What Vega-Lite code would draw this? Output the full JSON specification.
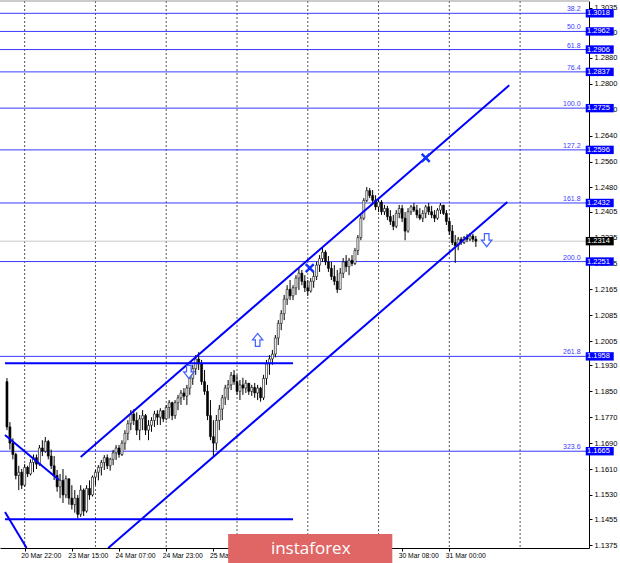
{
"$schema":"https://vega.github.io/schema/vega-lite/v6.json",
"width":589,"height":547,
"autosize":{"type":"none"},
"padding":{"left":0,"top":1,"right":31,"bottom":15},
"background":"#ffffff",
"config":{"view":{"stroke":null},"axis":{"labelFont":"Liberation Sans","grid":false,"labelOverlap":false,"labelFlush":false,"labelBound":false}},
"datasets":{
"candles":[
{"i":0,"o":1.1880,"h":1.1891,"l":1.1730,"c":1.1740},
{"i":1,"o":1.1740,"h":1.1755,"l":1.1670,"c":1.1690},
{"i":2,"o":1.1690,"h":1.1705,"l":1.1640,"c":1.1655},
{"i":3,"o":1.1655,"h":1.1660,"l":1.1578,"c":1.1590},
{"i":4,"o":1.1590,"h":1.1620,"l":1.1545,"c":1.1600},
{"i":5,"o":1.1600,"h":1.1610,"l":1.1548,"c":1.1560},
{"i":6,"o":1.1560,"h":1.1625,"l":1.1555,"c":1.1615},
{"i":7,"o":1.1615,"h":1.1620,"l":1.1585,"c":1.1595},
{"i":8,"o":1.1595,"h":1.1640,"l":1.1590,"c":1.1630},
{"i":9,"o":1.1630,"h":1.1655,"l":1.1600,"c":1.1645},
{"i":10,"o":1.1645,"h":1.1655,"l":1.1610,"c":1.1625},
{"i":11,"o":1.1625,"h":1.1684,"l":1.1620,"c":1.1675},
{"i":12,"o":1.1675,"h":1.1699,"l":1.1650,"c":1.1665},
{"i":13,"o":1.1665,"h":1.1709,"l":1.1660,"c":1.1695},
{"i":14,"o":1.1695,"h":1.1700,"l":1.1640,"c":1.1650},
{"i":15,"o":1.1650,"h":1.1670,"l":1.1610,"c":1.1620},
{"i":16,"o":1.1620,"h":1.1650,"l":1.1576,"c":1.1590},
{"i":17,"o":1.1590,"h":1.1607,"l":1.1540,"c":1.1555},
{"i":18,"o":1.1555,"h":1.1595,"l":1.1520,"c":1.1575},
{"i":19,"o":1.1575,"h":1.1610,"l":1.1505,"c":1.1530},
{"i":20,"o":1.1530,"h":1.1590,"l":1.1520,"c":1.1580},
{"i":21,"o":1.1580,"h":1.1580,"l":1.1500,"c":1.1520},
{"i":22,"o":1.1520,"h":1.1560,"l":1.1485,"c":1.1500},
{"i":23,"o":1.1500,"h":1.1545,"l":1.1475,"c":1.1520},
{"i":24,"o":1.1520,"h":1.1530,"l":1.1458,"c":1.1470},
{"i":25,"o":1.1470,"h":1.1560,"l":1.1462,"c":1.1545},
{"i":26,"o":1.1545,"h":1.1550,"l":1.1465,"c":1.1480},
{"i":27,"o":1.1480,"h":1.1560,"l":1.1475,"c":1.1550},
{"i":28,"o":1.1550,"h":1.1575,"l":1.1515,"c":1.1530},
{"i":29,"o":1.1530,"h":1.1590,"l":1.1525,"c":1.1585},
{"i":30,"o":1.1585,"h":1.1607,"l":1.1560,"c":1.1600},
{"i":31,"o":1.1600,"h":1.1622,"l":1.1575,"c":1.1615},
{"i":32,"o":1.1615,"h":1.1638,"l":1.1590,"c":1.1630},
{"i":33,"o":1.1630,"h":1.1653,"l":1.1607,"c":1.1645},
{"i":34,"o":1.1645,"h":1.1655,"l":1.1610,"c":1.1620},
{"i":35,"o":1.1620,"h":1.1645,"l":1.1605,"c":1.1640},
{"i":36,"o":1.1640,"h":1.1669,"l":1.1622,"c":1.1660},
{"i":37,"o":1.1660,"h":1.1684,"l":1.1638,"c":1.1675},
{"i":38,"o":1.1675,"h":1.1684,"l":1.1645,"c":1.1655},
{"i":39,"o":1.1655,"h":1.1699,"l":1.1650,"c":1.1690},
{"i":40,"o":1.1690,"h":1.1730,"l":1.1669,"c":1.1720},
{"i":41,"o":1.1720,"h":1.1761,"l":1.1699,"c":1.1750},
{"i":42,"o":1.1750,"h":1.1792,"l":1.1730,"c":1.1780},
{"i":43,"o":1.1780,"h":1.1795,"l":1.1746,"c":1.1760},
{"i":44,"o":1.1760,"h":1.1785,"l":1.1715,"c":1.1730},
{"i":45,"o":1.1730,"h":1.1777,"l":1.1699,"c":1.1765},
{"i":46,"o":1.1765,"h":1.1792,"l":1.1730,"c":1.1775},
{"i":47,"o":1.1775,"h":1.1780,"l":1.1715,"c":1.1730},
{"i":48,"o":1.1730,"h":1.1761,"l":1.1699,"c":1.1745},
{"i":49,"o":1.1745,"h":1.1770,"l":1.1725,"c":1.1760},
{"i":50,"o":1.1760,"h":1.1790,"l":1.1740,"c":1.1780},
{"i":51,"o":1.1780,"h":1.1792,"l":1.1746,"c":1.1770},
{"i":52,"o":1.1770,"h":1.1798,"l":1.1746,"c":1.1790},
{"i":53,"o":1.1790,"h":1.1792,"l":1.1755,"c":1.1765},
{"i":54,"o":1.1765,"h":1.1808,"l":1.1761,"c":1.1800},
{"i":55,"o":1.1800,"h":1.1823,"l":1.1766,"c":1.1815},
{"i":56,"o":1.1815,"h":1.1818,"l":1.1761,"c":1.1775},
{"i":57,"o":1.1775,"h":1.1823,"l":1.1765,"c":1.1815},
{"i":58,"o":1.1815,"h":1.1839,"l":1.1792,"c":1.1830},
{"i":59,"o":1.1830,"h":1.1854,"l":1.1808,"c":1.1845},
{"i":60,"o":1.1845,"h":1.1860,"l":1.1823,"c":1.1835},
{"i":61,"o":1.1835,"h":1.1870,"l":1.1808,"c":1.1860},
{"i":62,"o":1.1860,"h":1.1901,"l":1.1839,"c":1.1890},
{"i":63,"o":1.1890,"h":1.1932,"l":1.1870,"c":1.1920},
{"i":64,"o":1.1920,"h":1.1962,"l":1.1901,"c":1.1950},
{"i":65,"o":1.1950,"h":1.1971,"l":1.1916,"c":1.1935},
{"i":66,"o":1.1935,"h":1.1947,"l":1.1870,"c":1.1880},
{"i":67,"o":1.1880,"h":1.1916,"l":1.1839,"c":1.1850},
{"i":68,"o":1.1850,"h":1.1870,"l":1.1761,"c":1.1775},
{"i":69,"o":1.1775,"h":1.1823,"l":1.1699,"c":1.1710},
{"i":70,"o":1.1710,"h":1.1761,"l":1.1647,"c":1.1690},
{"i":71,"o":1.1690,"h":1.1777,"l":1.1669,"c":1.1760},
{"i":72,"o":1.1760,"h":1.1808,"l":1.1730,"c":1.1795},
{"i":73,"o":1.1795,"h":1.1839,"l":1.1761,"c":1.1830},
{"i":74,"o":1.1830,"h":1.1870,"l":1.1808,"c":1.1860},
{"i":75,"o":1.1860,"h":1.1885,"l":1.1823,"c":1.1870},
{"i":76,"o":1.1870,"h":1.1910,"l":1.1854,"c":1.1900},
{"i":77,"o":1.1900,"h":1.1916,"l":1.1870,"c":1.1880},
{"i":78,"o":1.1880,"h":1.1901,"l":1.1839,"c":1.1850},
{"i":79,"o":1.1850,"h":1.1885,"l":1.1823,"c":1.1870},
{"i":80,"o":1.1870,"h":1.1892,"l":1.1839,"c":1.1860},
{"i":81,"o":1.1860,"h":1.1885,"l":1.1845,"c":1.1875},
{"i":82,"o":1.1875,"h":1.1876,"l":1.1839,"c":1.1850},
{"i":83,"o":1.1850,"h":1.1870,"l":1.1836,"c":1.1862},
{"i":84,"o":1.1862,"h":1.1876,"l":1.1830,"c":1.1845},
{"i":85,"o":1.1845,"h":1.1870,"l":1.1823,"c":1.1860},
{"i":86,"o":1.1860,"h":1.1864,"l":1.1818,"c":1.1830},
{"i":87,"o":1.1830,"h":1.1901,"l":1.1823,"c":1.1890},
{"i":88,"o":1.1890,"h":1.1947,"l":1.1870,"c":1.1935},
{"i":89,"o":1.1935,"h":1.1962,"l":1.1901,"c":1.1950},
{"i":90,"o":1.1950,"h":1.1978,"l":1.1932,"c":1.1965},
{"i":91,"o":1.1965,"h":1.2024,"l":1.1955,"c":1.2015},
{"i":92,"o":1.2015,"h":1.2070,"l":1.1993,"c":1.2060},
{"i":93,"o":1.2060,"h":1.2101,"l":1.2039,"c":1.2090},
{"i":94,"o":1.2090,"h":1.2148,"l":1.2070,"c":1.2135},
{"i":95,"o":1.2135,"h":1.2178,"l":1.2117,"c":1.2165},
{"i":96,"o":1.2165,"h":1.2194,"l":1.2132,"c":1.2145},
{"i":97,"o":1.2145,"h":1.2178,"l":1.2132,"c":1.2170},
{"i":98,"o":1.2170,"h":1.2209,"l":1.2148,"c":1.2200},
{"i":99,"o":1.2200,"h":1.2231,"l":1.2163,"c":1.2215},
{"i":100,"o":1.2215,"h":1.2225,"l":1.2178,"c":1.2190},
{"i":101,"o":1.2190,"h":1.2209,"l":1.2157,"c":1.2170},
{"i":102,"o":1.2170,"h":1.2194,"l":1.2145,"c":1.2160},
{"i":103,"o":1.2160,"h":1.2200,"l":1.2155,"c":1.2190},
{"i":104,"o":1.2190,"h":1.2219,"l":1.2170,"c":1.2205},
{"i":105,"o":1.2205,"h":1.2250,"l":1.2194,"c":1.2240},
{"i":106,"o":1.2240,"h":1.2271,"l":1.2219,"c":1.2260},
{"i":107,"o":1.2260,"h":1.2293,"l":1.2250,"c":1.2280},
{"i":108,"o":1.2280,"h":1.2286,"l":1.2240,"c":1.2250},
{"i":109,"o":1.2250,"h":1.2268,"l":1.2219,"c":1.2230},
{"i":110,"o":1.2230,"h":1.2250,"l":1.2194,"c":1.2205},
{"i":111,"o":1.2205,"h":1.2240,"l":1.2178,"c":1.2190},
{"i":112,"o":1.2190,"h":1.2225,"l":1.2154,"c":1.2165},
{"i":113,"o":1.2165,"h":1.2231,"l":1.2163,"c":1.2215},
{"i":114,"o":1.2215,"h":1.2262,"l":1.2200,"c":1.2250},
{"i":115,"o":1.2250,"h":1.2271,"l":1.2219,"c":1.2235},
{"i":116,"o":1.2235,"h":1.2262,"l":1.2209,"c":1.2255},
{"i":117,"o":1.2255,"h":1.2271,"l":1.2237,"c":1.2245},
{"i":118,"o":1.2245,"h":1.2293,"l":1.2240,"c":1.2285},
{"i":119,"o":1.2285,"h":1.2333,"l":1.2271,"c":1.2325},
{"i":120,"o":1.2325,"h":1.2395,"l":1.2317,"c":1.2385},
{"i":121,"o":1.2385,"h":1.2447,"l":1.2379,"c":1.2440},
{"i":122,"o":1.2440,"h":1.2481,"l":1.2435,"c":1.2470},
{"i":123,"o":1.2470,"h":1.2478,"l":1.2447,"c":1.2455},
{"i":124,"o":1.2455,"h":1.2472,"l":1.2432,"c":1.2440},
{"i":125,"o":1.2440,"h":1.2456,"l":1.2410,"c":1.2420},
{"i":126,"o":1.2420,"h":1.2447,"l":1.2404,"c":1.2435},
{"i":127,"o":1.2435,"h":1.2441,"l":1.2395,"c":1.2405},
{"i":128,"o":1.2405,"h":1.2426,"l":1.2395,"c":1.2415},
{"i":129,"o":1.2415,"h":1.2423,"l":1.2379,"c":1.2390},
{"i":130,"o":1.2390,"h":1.2410,"l":1.2364,"c":1.2375},
{"i":131,"o":1.2375,"h":1.2395,"l":1.2348,"c":1.2360},
{"i":132,"o":1.2360,"h":1.2410,"l":1.2354,"c":1.2400},
{"i":133,"o":1.2400,"h":1.2426,"l":1.2385,"c":1.2415},
{"i":134,"o":1.2415,"h":1.2426,"l":1.2373,"c":1.2385},
{"i":135,"o":1.2385,"h":1.2404,"l":1.2317,"c":1.2345},
{"i":136,"o":1.2345,"h":1.2416,"l":1.2340,"c":1.2405},
{"i":137,"o":1.2405,"h":1.2426,"l":1.2395,"c":1.2420},
{"i":138,"o":1.2420,"h":1.2432,"l":1.2404,"c":1.2410},
{"i":139,"o":1.2410,"h":1.2426,"l":1.2385,"c":1.2395},
{"i":140,"o":1.2395,"h":1.2416,"l":1.2379,"c":1.2385},
{"i":141,"o":1.2385,"h":1.2410,"l":1.2373,"c":1.2400},
{"i":142,"o":1.2400,"h":1.2426,"l":1.2385,"c":1.2420},
{"i":143,"o":1.2420,"h":1.2432,"l":1.2395,"c":1.2405},
{"i":144,"o":1.2405,"h":1.2423,"l":1.2385,"c":1.2395},
{"i":145,"o":1.2395,"h":1.2410,"l":1.2373,"c":1.2385},
{"i":146,"o":1.2385,"h":1.2416,"l":1.2380,"c":1.2410},
{"i":147,"o":1.2410,"h":1.2432,"l":1.2398,"c":1.2425},
{"i":148,"o":1.2425,"h":1.2426,"l":1.2395,"c":1.2400},
{"i":149,"o":1.2400,"h":1.2410,"l":1.2364,"c":1.2375},
{"i":150,"o":1.2375,"h":1.2385,"l":1.2333,"c":1.2345},
{"i":151,"o":1.2345,"h":1.2364,"l":1.2302,"c":1.2310},
{"i":152,"o":1.2310,"h":1.2333,"l":1.2247,"c":1.2300},
{"i":153,"o":1.2300,"h":1.2327,"l":1.2286,"c":1.2320},
{"i":154,"o":1.2320,"h":1.2327,"l":1.2302,"c":1.2310},
{"i":155,"o":1.2310,"h":1.2330,"l":1.2305,"c":1.2325},
{"i":156,"o":1.2325,"h":1.2336,"l":1.2311,"c":1.2320},
{"i":157,"o":1.2320,"h":1.2339,"l":1.2314,"c":1.2330},
{"i":158,"o":1.2330,"h":1.2336,"l":1.2311,"c":1.2320},
{"i":159,"o":1.2320,"h":1.2330,"l":1.2296,"c":1.2314}
],
"fib":[
{"v":1.3018,"t":"38.2"},{"v":1.2962,"t":"50.0"},{"v":1.2906,"t":"61.8"},{"v":1.2837,"t":"76.4"},
{"v":1.2725,"t":"100.0"},{"v":1.2596,"t":"127.2"},{"v":1.2432,"t":"161.8"},{"v":1.2251,"t":"200.0"},
{"v":1.1958,"t":"261.8"},{"v":1.1665,"t":"323.6"}
],
"lines":[
{"g":"up","x":25,"y":1.1647},{"g":"up","x":170.33,"y":1.2796},
{"g":"lo","x":34.33,"y":1.1366},{"g":"lo","x":169.67,"y":1.2435},
{"g":"d1","x":-0.667,"y":1.1715},{"g":"d1","x":17.67,"y":1.1576},
{"g":"d2","x":-0.667,"y":1.1477},{"g":"d2","x":6.67,"y":1.1366},
{"g":"h1","x":-0.667,"y":1.1937},{"g":"h1","x":97,"y":1.1937},
{"g":"h2","x":-0.667,"y":1.1455},{"g":"h2","x":97,"y":1.1455}
],
"arrows":[
{"d":"up","x":85,"y":1.2009},{"d":"down","x":61.67,"y":1.1910},{"d":"down","x":162.67,"y":1.2317}
],
"crosses":[{"x":102.67,"y":1.2231},{"x":142,"y":1.2571}],
"grid":[{"g":6},{"g":30},{"g":54},{"g":78},{"g":102},{"g":126},{"g":150},{"g":174}]
},
"layer":[
{"data":{"name":"grid"},"mark":{"type":"rule","color":"#555555","strokeDash":[2,2],"strokeWidth":1},
 "encoding":{"x":{"field":"g","type":"quantitative","title":null,
   "scale":{"domain":[-0.667,195.667],"nice":false,"zero":false},
   "axis":{"values":[6,22,38,54,70,86,102,118,134,150],"tickCount":40,
     "labelExpr":"['20 Mar 22:00','23 Mar 15:00','24 Mar 07:00','24 Mar 23:00','25 Mar 15:00','26 Mar 07:00','26 Mar 23:00','27 Mar 15:00','30 Mar 08:00','31 Mar 00:00'][round((datum.value-6)/16)]",
     "labelAlign":"left","labelBaseline":"top","labelFontSize":6.8,"labelColor":"#000000","labelPadding":1,"labelOffset":-4,
     "labelOverlap":false,"labelFlush":false,"labelBound":false,
     "tickSize":3,"tickColor":"#000000","domainColor":"#000000","domainWidth":1}}}},
{"data":{"values":[{"v":1.3056}]},"mark":{"type":"rule","color":"#999999","strokeWidth":1},
 "encoding":{"y":{"field":"v","type":"quantitative","title":null,
   "scale":{"domain":[1.1366,1.3056],"nice":false,"zero":false},
   "axis":{"orient":"right","tickCount":60,"values":[1.1375,1.1455,1.1530,1.1610,1.1690,1.1770,1.1850,1.1930,1.2005,1.2085,1.2165,1.2245,1.2325,1.2405,1.2480,1.2560,1.2640,1.2720,1.2800,1.2880,1.2960,1.3035],
     "format":".4f","labelFontSize":7.5,"labelColor":"#000000","labelPadding":2,"labelOverlap":false,"labelFlush":false,"labelBound":false,
     "tickSize":3,"tickColor":"#000000","domainColor":"#000000","domainWidth":1}}}},
{"data":{"values":[{"v":1.2314}]},"mark":{"type":"rule","color":"#c8c8c8","strokeWidth":1},
 "encoding":{"y":{"field":"v","type":"quantitative","title":null}}},
{"data":{"name":"fib"},"mark":{"type":"rule","color":"#3a3aff","strokeWidth":1},
 "encoding":{"y":{"field":"v","type":"quantitative","title":null}}},
{"data":{"name":"fib"},"mark":{"type":"text","color":"#3a3aff","fontSize":7,"font":"Liberation Sans","align":"right","baseline":"bottom","dy":-1},
 "encoding":{"x":{"datum":194.5,"type":"quantitative"},"y":{"field":"v","type":"quantitative","title":null},"text":{"field":"t"}}},
{"data":{"name":"candles"},"mark":{"type":"rule","color":"#000000","strokeWidth":1},
 "encoding":{"x":{"field":"i","type":"quantitative","title":null},"y":{"field":"l","type":"quantitative","title":null},"y2":{"field":"h"}}},
{"data":{"name":"candles"},"mark":{"type":"bar","width":2,"stroke":"#000000","strokeWidth":0.6},
 "encoding":{"x":{"field":"i","type":"quantitative","title":null},"y":{"field":"o","type":"quantitative","title":null},"y2":{"field":"c"},
   "fill":{"condition":{"test":"datum.c >= datum.o","value":"#ffffff"},"value":"#000000"}}},
{"data":{"name":"lines"},"mark":{"type":"line","color":"#0000ff","strokeWidth":2,"clip":true},
 "encoding":{"x":{"field":"x","type":"quantitative","title":null},"y":{"field":"y","type":"quantitative","title":null},"detail":{"field":"g"}}},
{"data":{"name":"arrows"},"transform":[{"filter":"datum.d === 'up'"}],
 "mark":{"type":"point","filled":true,"fill":"#ffffff","stroke":"#4060ff","strokeWidth":1.2,"opacity":1,"size":169,
   "shape":"M-0.35,1L0.35,1L0.35,0L0.8,0L0,-1L-0.8,0L-0.35,0Z"},
 "encoding":{"x":{"field":"x","type":"quantitative","title":null},"y":{"field":"y","type":"quantitative","title":null}}},
{"data":{"name":"arrows"},"transform":[{"filter":"datum.d === 'down'"}],
 "mark":{"type":"point","filled":true,"fill":"#ffffff","stroke":"#4060ff","strokeWidth":1.2,"opacity":1,"size":169,
   "shape":"M-0.35,-1L0.35,-1L0.35,0L0.8,0L0,1L-0.8,0L-0.35,0Z"},
 "encoding":{"x":{"field":"x","type":"quantitative","title":null},"y":{"field":"y","type":"quantitative","title":null}}},
{"data":{"name":"crosses"},
 "mark":{"type":"point","filled":false,"stroke":"#1030ff","strokeWidth":2.5,"opacity":1,"size":64,"shape":"M-1,-1L1,1M1,-1L-1,1"},
 "encoding":{"x":{"field":"x","type":"quantitative","title":null},"y":{"field":"y","type":"quantitative","title":null}}},
{"data":{"name":"fib"},
 "mark":{"type":"point","filled":true,"fill":"#0000ff","strokeWidth":0,"opacity":1,"size":784,"shape":"M-1,-0.3L1,-0.3L1,0.3L-1,0.3Z"},
 "encoding":{"x":{"datum":201,"type":"quantitative"},"y":{"field":"v","type":"quantitative","title":null}}},
{"data":{"name":"fib"},"mark":{"type":"text","color":"#ffffff","fontSize":7.5,"font":"Liberation Sans","align":"left","baseline":"middle"},
 "encoding":{"x":{"datum":196.67,"type":"quantitative"},"y":{"field":"v","type":"quantitative","title":null},"text":{"field":"v","type":"quantitative","format":".4f"}}},
{"data":{"values":[{"v":1.2314}]},
 "mark":{"type":"point","filled":true,"fill":"#000000","strokeWidth":0,"opacity":1,"size":784,"shape":"M-1,-0.3L1,-0.3L1,0.3L-1,0.3Z"},
 "encoding":{"x":{"datum":201,"type":"quantitative"},"y":{"field":"v","type":"quantitative","title":null}}},
{"data":{"values":[{"v":1.2314}]},"mark":{"type":"text","color":"#ffffff","fontSize":7.5,"font":"Liberation Sans","align":"left","baseline":"middle"},
 "encoding":{"x":{"datum":196.67,"type":"quantitative"},"y":{"field":"v","type":"quantitative","title":null},"text":{"field":"v","type":"quantitative","format":".4f"}}},
{"data":{"values":[{"x1":75,"x2":130.67,"y1":1.1409,"y2":1.1319}]},
 "mark":{"type":"rect","color":"#e06666","opacity":1},
 "encoding":{"x":{"field":"x1","type":"quantitative","title":null},"x2":{"field":"x2"},"y":{"field":"y1","type":"quantitative","title":null},"y2":{"field":"y2"}}},
{"data":{"values":[{"x":103,"y":1.1363,"t":"instaforex"}]},
 "mark":{"type":"text","color":"#ffffff","fontSize":17,"font":"Open Sans","align":"center","baseline":"middle"},
 "encoding":{"x":{"field":"x","type":"quantitative","title":null},"y":{"field":"y","type":"quantitative","title":null},"text":{"field":"t"}}}
]
}
